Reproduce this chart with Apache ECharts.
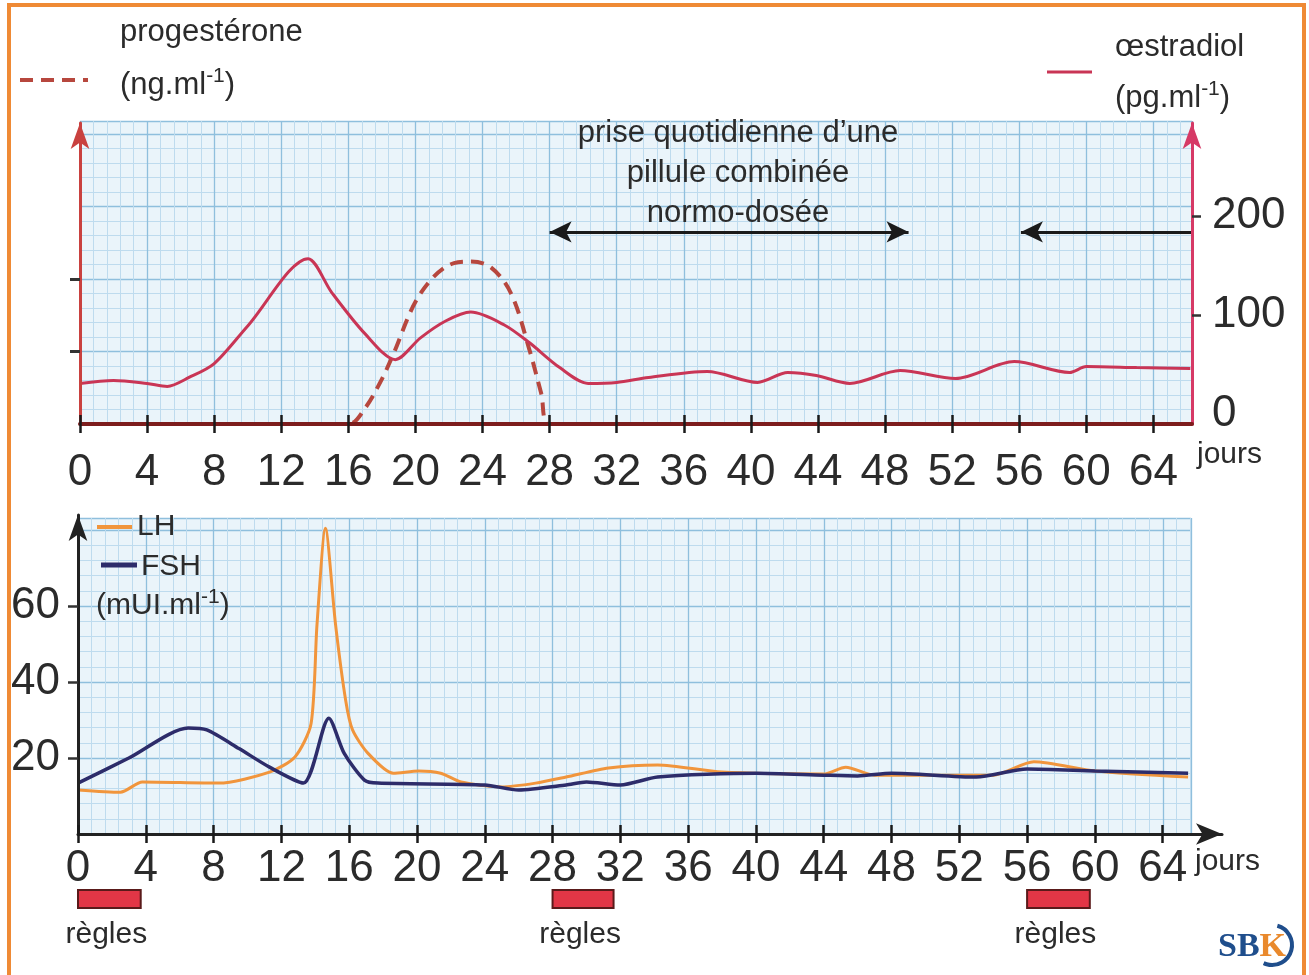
<!DOCTYPE html>
<html><head><meta charset="utf-8">
<script src="https://cdn.jsdelivr.net/npm/echarts@6/dist/echarts.min.js"></script>
<style>html,body{margin:0;padding:0;background:#fff}#c{width:1309px;height:975px}</style>
</head><body><div id="c"></div>
<script>
// ---- data (days, values) ----
const xTicks = [0,4,8,12,16,20,24,28,32,36,40,44,48,52,56,60,64];
const oestradiolTicks = [0,100,200];
const gonadoTicks = [20,40,60];
const progesteroneTicks = [5,10];
const progesterone = [[0,0],[16,0],[17,1.1],[18,3.1],[18.6,4.6],[20.3,9.0],[22.3,11.1],[23.3,11.2],[24.5,10.8],[25.7,9.0],[26.8,5.1],[27.5,2.1],[28,0],[66.3,0]];
const oestradiol = [[0,31],[2,34],[4,31],[5.2,28],[6.5,37],[8,51],[10,89],[13.6,157],[15,123],[17,81],[18.8,55],[20.3,77],[21.8,94],[23.3,103],[25.3,90],[26.8,72],[28.6,47],[30.3,31],[32,32],[33.9,37],[37.4,43],[40.4,32],[42.2,42],[43.9,39],[45.9,31],[48.9,44],[52.2,36],[55.7,53],[59,42],[60,48],[63,47],[66.2,46]];
const LH = [[0,11.6],[2.5,11],[3.8,13.7],[8.3,13.4],[11.3,16.3],[12.8,20.3],[13.75,29],[14.1,55],[14.6,80.5],[15.2,55],[15.8,35],[16.2,27.4],[17.1,21.3],[18.6,16],[20.1,16.6],[21.4,16],[22.6,13.7],[25,12.4],[27,13.4],[28.8,15],[31.3,17.4],[34.2,18.2],[38,16.3],[44,15.8],[45.3,17.6],[47,15.5],[54,15.5],[56.4,19],[60,16.6],[65.5,15]];
const FSH = [[0,13.4],[3,20],[6.5,27.9],[7.6,27.4],[9.5,22.5],[11.3,17.6],[13.3,13.4],[14.8,30.5],[15.7,21.3],[16.9,14.2],[17.7,13.4],[24,12.9],[26,11.6],[28.8,12.9],[30,13.7],[32,12.9],[34.2,15],[40,16],[44,15.5],[46,15.3],[48,16],[53,15],[56,17.1],[60,16.6],[65.5,16]];
const regles = [[0,3.7],[28,31.6],[56,59.7]];
const pillLevel = 184;
const pillPeriods = [[28,49.4],[66.3,56.1]];

const NUM = '"Liberation Sans Narrow", "Liberation Sans", Arial, sans-serif';
const TXT = '"Liberation Sans", Arial, sans-serif';
const ink = '#2b2b2b';

const paperX = (gi, max) => ({gridIndex: gi, type:'value', position:'bottom', min:0, max:max, interval:4,
  axisLine:{show:false}, axisTick:{show:false}, axisLabel:{show:false},
  splitLine:{show:true, lineStyle:{color:'#8fbfdd', width:1.3}},
  minorTick:{show:false, splitNumber:5},
  minorSplitLine:{show:true, lineStyle:{color:'#bedbee', width:1}}});
const paperY = (gi, max, interval) => ({gridIndex: gi, type:'value', position:'left', min:0, max:max, interval:interval,
  axisLine:{show:false}, axisTick:{show:false}, axisLabel:{show:false},
  splitLine:{show:true, lineStyle:{color:'#8fbfdd', width:1.3}},
  minorTick:{show:false, splitNumber:5},
  minorSplitLine:{show:true, lineStyle:{color:'#bedbee', width:1}}});

const chart = echarts.init(document.getElementById('c'));
const option = {
  animation:false,
  backgroundColor:'#ffffff',
  grid:[
    {left:80, top:121, width:1112, height:303, show:true, backgroundColor:'#eaf4fa', borderWidth:0},
    {left:80, top:123, width:1112, height:301},
    {left:78, top:518, width:1113, height:316, show:true, backgroundColor:'#eaf4fa', borderWidth:0},
    {left:78, top:515, width:1144, height:319},
    {left:78, top:890, width:1144, height:18}
  ],
  xAxis:[
    paperX(0, 66.3),
    {gridIndex:1, type:'value', position:'bottom', min:0, max:66.3, z:5,
      axisLine:{show:true, onZero:false, lineStyle:{color:'#7d1d1d', width:4}},
      axisTick:{show:true, customValues:xTicks, length:9, lineStyle:{color:'#1a1a1a', width:2.5}},
      axisLabel:{show:true, customValues:xTicks, margin:27, fontFamily:NUM, fontSize:44, color:ink},
      splitLine:{show:false}},
    {gridIndex:1, type:'value', position:'bottom', min:0, max:66.3, z:5,
      axisLine:{show:false, onZero:false},
      axisTick:{show:true, inside:true, customValues:xTicks, length:9, lineStyle:{color:'#1a1a1a', width:2.5}},
      axisLabel:{show:false}, splitLine:{show:false}},
    paperX(2, 65.66),
    {gridIndex:3, type:'value', position:'bottom', min:0, max:67.5, z:5,
      axisLine:{show:true, onZero:false, symbol:['none','arrow'], symbolSize:[16,26], lineStyle:{color:'#222', width:3}},
      axisTick:{show:true, customValues:xTicks, length:9, lineStyle:{color:'#1a1a1a', width:2.5}},
      axisLabel:{show:true, customValues:xTicks, margin:13, fontFamily:NUM, fontSize:44, color:ink},
      splitLine:{show:false}},
    {gridIndex:3, type:'value', position:'bottom', min:0, max:67.5, z:5,
      axisLine:{show:false, onZero:false},
      axisTick:{show:true, inside:true, customValues:xTicks, length:9, lineStyle:{color:'#1a1a1a', width:2.5}},
      axisLabel:{show:false}, splitLine:{show:false}},
    {gridIndex:4, type:'value', min:0, max:67.5, show:false}
  ],
  yAxis:[
    paperY(0, 20.9, 5),
    {gridIndex:1, type:'value', position:'left', min:0, max:20.76, z:5,
      axisLine:{show:true, onZero:false, symbol:['none','arrow'], symbolSize:[14,26], lineStyle:{color:'#c9413f', width:3}},
      axisTick:{show:true, customValues:progesteroneTicks, length:10, lineStyle:{color:'#333', width:3}},
      axisLabel:{show:false}, splitLine:{show:false}},
    {gridIndex:1, type:'value', position:'right', min:-10, max:294, z:5,
      axisLine:{show:true, onZero:false, symbol:['none','arrow'], symbolSize:[14,26], lineStyle:{color:'#d63a66', width:3}},
      axisTick:{show:true, customValues:[100,200], length:9, lineStyle:{color:'#333', width:2.5}},
      axisLabel:{show:true, customValues:oestradiolTicks, margin:20, fontFamily:NUM, fontSize:44, color:ink},
      splitLine:{show:false}},
    paperY(2, 83.2, 20),
    {gridIndex:3, type:'value', position:'left', min:0, max:84, z:5,
      axisLine:{show:true, onZero:false, symbol:['none','arrow'], symbolSize:[14,26], lineStyle:{color:'#222', width:3}},
      axisTick:{show:true, customValues:gonadoTicks, length:10, lineStyle:{color:'#333', width:2.5}},
      axisLabel:{show:true, customValues:gonadoTicks, margin:18, fontFamily:NUM, fontSize:44, color:ink},
      splitLine:{show:false}},
    {gridIndex:4, type:'value', min:0, max:1, show:false}
  ],
  series:[
    {name:'progestérone', type:'line', xAxisIndex:1, yAxisIndex:1, data:progesterone, smooth:0.35,
      showSymbol:false, z:3, lineStyle:{type:[13,8], width:4, color:'#b7473e'}},
    {name:'œstradiol', type:'line', xAxisIndex:1, yAxisIndex:2, data:oestradiol, smooth:0.3,
      showSymbol:false, z:4, lineStyle:{width:3, color:'#c93555'},
      markLine:{silent:true, symbol:['arrow','arrow'], symbolSize:[16,22], label:{show:false},
        lineStyle:{color:'#1a1a1a', width:3, type:'solid'},
        data:[
          [{coord:[pillPeriods[0][0], pillLevel]},{coord:[pillPeriods[0][1], pillLevel]}],
          [{coord:[pillPeriods[1][0], pillLevel], symbol:'none'},{coord:[pillPeriods[1][1], pillLevel]}]
        ]}},
    {name:'LH', type:'line', xAxisIndex:4, yAxisIndex:4, data:LH, smooth:0.25,
      showSymbol:false, z:3, lineStyle:{width:3, color:'#f1953c'}},
    {name:'FSH', type:'line', xAxisIndex:4, yAxisIndex:4, data:FSH, smooth:0.25,
      showSymbol:false, z:4, lineStyle:{width:3.5, color:'#2d2c6a'}},
    {name:'règles', type:'custom', xAxisIndex:6, yAxisIndex:5, data:regles, encode:{x:[0,1]},
      renderItem:function(params, api){
        const s = api.value(0), e = api.value(1);
        const p0 = api.coord([s,1]), p1 = api.coord([e,0]);
        return {type:'group', children:[
          {type:'rect', shape:{x:p0[0], y:p0[1], width:p1[0]-p0[0], height:p1[1]-p0[1]},
            style:{fill:'#e23646', stroke:'#5a1a1a', lineWidth:2}},
          {type:'text', x:(p0[0]+p1[0])/2-3, y:p1[1]+12,
            style:{text:'règles', font:'30px '+TXT, fill:ink, align:'center', verticalAlign:'top'}}
        ]};
      }}
  ],
  graphic:[
    {type:'rect', shape:{x:9, y:5, width:1295, height:995}, style:{fill:'none', stroke:'#ef8a35', lineWidth:4}, z:100},
    // legends
    {type:'line', shape:{x1:20, y1:80, x2:88, y2:80}, style:{stroke:'#b7473e', lineWidth:4, lineDash:[13,8]}},
    {type:'text', x:120, y:32, style:{text:'progestérone', font:'31px '+TXT, fill:ink, verticalAlign:'middle'}},
    {type:'text', x:120, y:85, style:{text:'(ng.ml{s|-1})', fill:ink, verticalAlign:'middle',
      fontFamily:TXT, fontSize:31, lineHeight:38,
      rich:{s:{fontSize:21, fontFamily:TXT, verticalAlign:'top', lineHeight:22, fill:ink}}}},
    {type:'line', shape:{x1:1047, y1:72, x2:1092, y2:72}, style:{stroke:'#c93555', lineWidth:3}},
    {type:'text', x:1115, y:47, style:{text:'œstradiol', font:'31px '+TXT, fill:ink, verticalAlign:'middle'}},
    {type:'text', x:1115, y:98, style:{text:'(pg.ml{s|-1})', fill:ink, verticalAlign:'middle',
      fontFamily:TXT, fontSize:31, lineHeight:38,
      rich:{s:{fontSize:21, fontFamily:TXT, verticalAlign:'top', lineHeight:22, fill:ink}}}},
    {type:'line', shape:{x1:97, y1:527, x2:132, y2:527}, style:{stroke:'#f1953c', lineWidth:4}, z:10},
    {type:'text', x:137, y:527, z:10, style:{text:'LH', font:'30px '+TXT, fill:ink, verticalAlign:'middle'}},
    {type:'line', shape:{x1:101, y1:565, x2:137, y2:565}, style:{stroke:'#2d2c6a', lineWidth:5}, z:10},
    {type:'text', x:141, y:567, z:10, style:{text:'FSH', font:'30px '+TXT, fill:ink, verticalAlign:'middle'}},
    {type:'text', x:96, y:606, z:10, style:{text:'(mUI.ml{s|-1})', fill:ink, verticalAlign:'middle',
      fontFamily:TXT, fontSize:30, lineHeight:38,
      rich:{s:{fontSize:21, fontFamily:TXT, verticalAlign:'top', lineHeight:22, fill:ink}}}},
    // annotation
    {type:'text', x:738, y:133, z:10, style:{text:'prise quotidienne d’une', font:'31px '+TXT, fill:ink, align:'center', verticalAlign:'middle'}},
    {type:'text', x:738, y:173, z:10, style:{text:'pillule combinée', font:'31px '+TXT, fill:ink, align:'center', verticalAlign:'middle'}},
    {type:'text', x:738, y:213, z:10, style:{text:'normo-dosée', font:'31px '+TXT, fill:ink, align:'center', verticalAlign:'middle'}},
    // axis units
    {type:'text', x:1197, y:455, style:{text:'jours', font:'30px '+TXT, fill:ink, verticalAlign:'middle'}},
    {type:'text', x:1195, y:862, style:{text:'jours', font:'30px '+TXT, fill:ink, verticalAlign:'middle'}},
    // logo
    {type:'text', x:1218, y:947, style:{text:'{a|SB}{b|K}', verticalAlign:'middle',
      rich:{a:{fontFamily:'"Liberation Serif", serif', fontWeight:'bold', fontSize:34, fill:'#1f4e8c'},
            b:{fontFamily:'"Liberation Serif", serif', fontWeight:'bold', fontSize:34, fill:'#e9892c'}}}},
    {type:'arc', shape:{cx:1272, cy:945, r:20, startAngle:-1.3, endAngle:2.0}, style:{stroke:'#1f4e8c', lineWidth:4, fill:'none'}}
  ]
};
chart.setOption(option);
</script></body></html>
